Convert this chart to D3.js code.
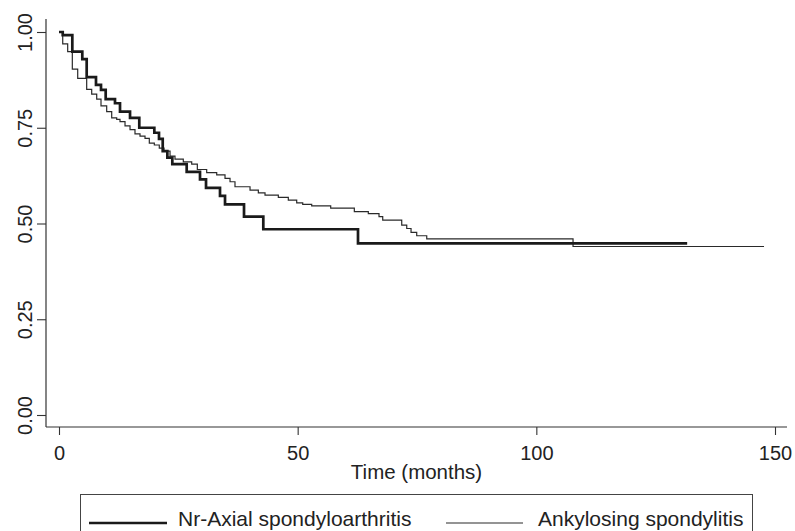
<!DOCTYPE html>
<html><head><meta charset="utf-8">
<script src="https://cdn.jsdelivr.net/npm/d3@7"></script>
<style>body{margin:0;background:#fff} svg{display:block} text{font-family:'Liberation Sans', Arial, Helvetica, sans-serif;}</style>
</head><body>
<svg id="c" width="795" height="531"></svg>
<script>
// Kaplan-Meier step data (time in months, survival)
const seriesNames = ["Nr-Axial spondyloarthritis", "Ankylosing spondylitis"];
const nrTime = [0, 0.78, 2.79, 4.88, 5.80, 7.75, 8.80, 9.78, 11.73, 12.78, 14.88, 16.82, 19.97, 20.95, 21.73, 22.7, 23.74, 26.75, 29.54, 30.80, 33.73, 34.78, 38.76, 42.80, 62.64, 131.6];
const nrSurv = [1.0, 0.992, 0.949, 0.929, 0.882, 0.862, 0.849, 0.825, 0.814, 0.792, 0.776, 0.750, 0.737, 0.721, 0.689, 0.672, 0.655, 0.635, 0.615, 0.593, 0.572, 0.550, 0.518, 0.485, 0.448, 0.448];
const asTime = [0, 0.78, 1.82, 2.79, 3.92, 5.80, 6.85, 7.90, 8.80, 9.99, 11.04, 12.09, 12.78, 13.83, 14.88, 15.92, 16.97, 18.02, 18.92, 19.97, 21.01, 22.0, 23.26, 24.30, 26.04, 27.80, 28.98, 30.94, 33.04, 34.78, 35.83, 36.87, 40.02, 41.76, 43.16, 45.95, 48.04, 49.80, 51.06, 52.94, 56.92, 61.87, 64.80, 67.04, 67.82, 71.80, 72.85, 73.75, 74.94, 77.04, 107.69, 147.7];
const asSurv = [1.0, 0.969, 0.949, 0.903, 0.879, 0.850, 0.838, 0.825, 0.807, 0.792, 0.776, 0.772, 0.766, 0.755, 0.745, 0.734, 0.728, 0.722, 0.710, 0.705, 0.697, 0.689, 0.676, 0.668, 0.661, 0.655, 0.641, 0.633, 0.627, 0.618, 0.609, 0.596, 0.587, 0.580, 0.574, 0.568, 0.561, 0.554, 0.550, 0.546, 0.540, 0.531, 0.526, 0.518, 0.509, 0.496, 0.487, 0.477, 0.468, 0.460, 0.440, 0.440];
const xTicks = [0, 50, 100, 150];
const yTicks = [0, 0.25, 0.5, 0.75, 1];
const xTitle = "Time (months)";

const font = "'Liberation Sans', Arial, Helvetica, sans-serif";
const svg = d3.select("#c");
const x = d3.scaleLinear().domain([0, 150]).range([59, 775]);
const y = d3.scaleLinear().domain([0, 1]).range([415, 32]);
const axisColor = "#333";
const plotLeft = 46, plotRight = 787, plotTop = 19, plotBottom = 427;

// axis lines
svg.append("line").attr("x1", plotLeft).attr("x2", plotLeft).attr("y1", plotTop).attr("y2", plotBottom)
  .attr("stroke", axisColor).attr("stroke-width", 1.2);
svg.append("line").attr("x1", plotLeft).attr("x2", plotRight).attr("y1", plotBottom).attr("y2", plotBottom)
  .attr("stroke", axisColor).attr("stroke-width", 1.2);

// y axis
const gy = svg.append("g").attr("transform", `translate(${plotLeft},0)`)
  .call(d3.axisLeft(y).tickValues(yTicks).tickSize(9).tickFormat(d3.format(".2f")));
gy.attr("font-family", null);
gy.select(".domain").remove();
gy.selectAll(".tick line").attr("stroke", axisColor).attr("stroke-width", 1.1);
gy.selectAll(".tick text")
  .style("font-family", font).style("font-size", "20px").attr("fill", "#222")
  .attr("x", null).attr("dy", null)
  .attr("text-anchor", "middle")
  .attr("transform", `translate(${32 - plotLeft},0) rotate(-90)`);

// x axis
const gx = svg.append("g").attr("transform", `translate(0,${plotBottom})`)
  .call(d3.axisBottom(x).tickValues(xTicks).tickSize(8).tickFormat(d3.format("d")));
gx.attr("font-family", null);
gx.select(".domain").remove();
gx.selectAll(".tick line").attr("stroke", axisColor).attr("stroke-width", 1.1);
gx.selectAll(".tick text")
  .style("font-family", font).style("font-size", "20px").attr("fill", "#222")
  .attr("y", 33).attr("dy", null);

svg.append("text").attr("x", (plotLeft + plotRight) / 2).attr("y", 479)
  .attr("text-anchor", "middle").style("font-family", font).style("font-size", "20.5px").attr("fill", "#222")
  .text(xTitle);

// curves
const line = d3.line().x(d => x(d[0])).y(d => y(d[1])).curve(d3.curveStepAfter);
const nrPts = nrTime.map((t, i) => [t, nrSurv[i]]);
const asPts = asTime.map((t, i) => [t, asSurv[i]]);
const styles = [{w: 2.7, c: "#1a1a1a"}, {w: 1.2, c: "#2a2a2a"}];
svg.append("path").attr("d", line(asPts)).attr("fill", "none")
  .attr("stroke", styles[1].c).attr("stroke-width", styles[1].w);
svg.append("path").attr("d", line(nrPts)).attr("fill", "none")
  .attr("stroke", styles[0].c).attr("stroke-width", styles[0].w);

// legend
svg.append("rect").attr("x", 80.5).attr("y", 494.5).attr("width", 672).attr("height", 50)
  .attr("fill", "none").attr("stroke", "#444").attr("stroke-width", 1);
const legItems = [{x1: 89, x2: 167, tx: 178}, {x1: 446, x2: 523, tx: 538}];
legItems.forEach((it, i) => {
  svg.append("line").attr("x1", it.x1).attr("x2", it.x2).attr("y1", 523).attr("y2", 523)
    .attr("stroke", styles[i].c).attr("stroke-width", styles[i].w);
  svg.append("text").attr("x", it.tx).attr("y", 525.5).style("font-family", font).style("font-size", "21px")
    .attr("fill", "#222").text(seriesNames[i]);
});
</script>
</body></html>
